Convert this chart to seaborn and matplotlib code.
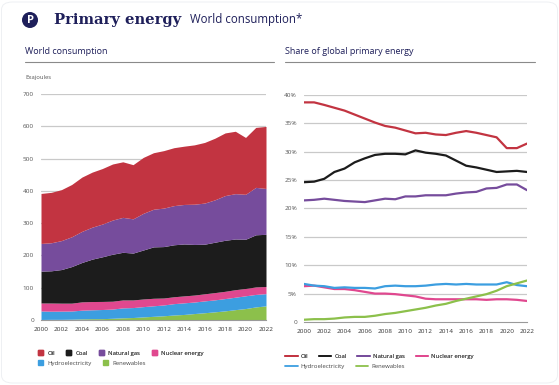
import numpy as np
import pandas as pd
import matplotlib.pyplot as plt
import seaborn as sns
from matplotlib.patches import Patch, Ellipse, FancyBboxPatch
from matplotlib.lines import Line2D

years = list(range(2000, 2023))

# World consumption, exajoules
oil_ej = [154.9, 156.2, 157.8, 161.9, 168.1, 170.5, 172.0, 173.6, 172.1, 167.8, 173.2, 175.0,
          178.0, 179.4, 180.5, 183.8, 187.8, 190.8, 194.0, 193.3, 176.1, 185.7, 192.2]
coal_ej = [98.6, 99.8, 104.1, 113.3, 122.0, 131.3, 138.3, 145.5, 147.6, 145.2, 151.7, 159.2,
           159.3, 161.0, 160.8, 156.7, 153.7, 156.0, 158.0, 157.0, 152.5, 161.5, 161.6]
gas_ej = [85.8, 86.8, 89.7, 92.3, 96.3, 99.0, 101.4, 105.9, 108.2, 106.0, 113.6, 116.6,
          119.2, 121.3, 122.4, 124.7, 127.4, 131.3, 138.5, 140.4, 139.2, 146.9, 142.0]
nuclear_ej = [24.8, 25.3, 24.7, 24.4, 25.7, 25.6, 25.0, 24.3, 24.5, 23.6, 23.7, 23.3,
              21.5, 21.3, 21.5, 21.6, 21.9, 22.5, 22.5, 23.3, 22.6, 23.2, 22.2]
hydro_ej = [26.3, 25.3, 25.5, 25.3, 27.0, 27.5, 28.3, 28.6, 30.8, 30.8, 31.8, 32.6,
            33.5, 35.2, 36.0, 35.7, 36.7, 37.1, 38.1, 38.5, 39.5, 38.7, 37.8]
renew_ej = [1.6, 2.0, 2.0, 2.5, 3.5, 4.1, 4.2, 5.3, 6.8, 7.7, 9.6, 11.4,
            13.1, 15.5, 17.2, 20.0, 22.5, 25.3, 28.3, 32.1, 35.5, 40.5, 43.8]

# Share of global primary energy, %
oil_pct = [38.65, 38.65, 38.2, 37.7, 37.2, 36.5, 35.8, 35.1, 34.5, 34.2, 33.7, 33.2,
           33.3, 33.0, 32.9, 33.3, 33.6, 33.3, 32.9, 32.5, 30.6, 30.6, 31.4]
coal_pct = [24.6, 24.7, 25.2, 26.4, 27.0, 28.1, 28.8, 29.4, 29.6, 29.6, 29.5, 30.2,
            29.8, 29.6, 29.3, 28.4, 27.5, 27.2, 26.8, 26.4, 26.5, 26.6, 26.4]
gas_pct = [21.4, 21.5, 21.7, 21.5, 21.3, 21.2, 21.1, 21.4, 21.7, 21.6, 22.1, 22.1,
           22.3, 22.3, 22.3, 22.6, 22.8, 22.9, 23.5, 23.6, 24.2, 24.2, 23.2]
nuclear_pct = [6.3, 6.4, 6.1, 5.8, 5.8, 5.6, 5.3, 5.0, 5.0, 4.9, 4.7, 4.5,
               4.1, 4.0, 4.0, 4.0, 4.0, 4.0, 3.9, 4.0, 4.0, 3.9, 3.7]
hydro_pct = [6.7, 6.4, 6.3, 6.0, 6.1, 6.0, 6.0, 5.9, 6.3, 6.4, 6.3, 6.3,
             6.4, 6.6, 6.7, 6.6, 6.7, 6.6, 6.6, 6.6, 7.0, 6.5, 6.3]
renew_pct = [0.4, 0.5, 0.5, 0.6, 0.8, 0.9, 0.9, 1.1, 1.4, 1.6, 1.9, 2.2,
             2.5, 2.9, 3.2, 3.7, 4.1, 4.5, 4.9, 5.5, 6.3, 6.8, 7.3]

fuels = ["Oil", "Coal", "Natural gas", "Nuclear energy", "Hydroelectricity", "Renewables"]
colors = {"Oil": "#c23441", "Coal": "#1c1c1c", "Natural gas": "#764c9c",
          "Nuclear energy": "#e0488f", "Hydroelectricity": "#3c9ee0", "Renewables": "#8cc04b"}

ej = pd.DataFrame({"Oil": oil_ej, "Coal": coal_ej, "Natural gas": gas_ej,
                   "Nuclear energy": nuclear_ej, "Hydroelectricity": hydro_ej,
                   "Renewables": renew_ej}, index=years)
pct = pd.DataFrame({"Oil": oil_pct, "Coal": coal_pct, "Natural gas": gas_pct,
                    "Nuclear energy": nuclear_pct, "Hydroelectricity": hydro_pct,
                    "Renewables": renew_pct}, index=years)
pct_long = pct.reset_index(names="year").melt(id_vars="year", var_name="fuel", value_name="share")

sns.set_style("white")
plt.rcParams['font.family'] = ['Open Sans', 'DejaVu Sans']

navy = "#1e1f5a"
grey_txt = "#555555"
grid_c = "#c9c9c9"
W, H = 559, 385

fig = plt.figure(figsize=(5.59, 3.85), dpi=100)

# faint rounded frame
fig.patches.append(FancyBboxPatch((1.5 / W, 2 / H), 556 / W, 381 / H,
                                  boxstyle="round,pad=0,rounding_size=0.02",
                                  transform=fig.transFigure, facecolor="none",
                                  edgecolor="#eef0f3", lw=0.7))

# header
fig.patches.append(Ellipse((30 / W, 1 - 20 / H), 16 / W, 16 / H, transform=fig.transFigure,
                           facecolor=navy, edgecolor="none"))
fig.text(30 / W, 1 - 20.5 / H, "P", color="white", fontsize=8, fontweight="bold",
         ha="center", va="center")
fig.text(54 / W, 1 - 20 / H, "Primary energy", color=navy, fontsize=10.6,
         fontweight="bold", family="DejaVu Serif", va="center")
fig.text(190 / W, 1 - 20 / H, "World consumption*", color=navy, fontsize=8.3, va="center")

fig.text(25 / W, 1 - 52 / H, "World consumption", color=navy, fontsize=6.5, va="center")
fig.text(285 / W, 1 - 52 / H, "Share of global primary energy", color=navy, fontsize=6.5,
         va="center")
fig.add_artist(Line2D([25 / W, 274 / W], [1 - 61.5 / H] * 2, color="#8a8a8a", lw=0.8))
fig.add_artist(Line2D([285 / W, 535 / W], [1 - 61.5 / H] * 2, color="#8a8a8a", lw=0.8))
fig.text(25 / W, 1 - 77 / H, "Exajoules", color=grey_txt, fontsize=4.2, va="center")

# left: stacked area
ax1 = fig.add_axes([41 / W, 1 - 320 / H, 225 / W, 226 / H])
order = ["Renewables", "Hydroelectricity", "Nuclear energy", "Coal", "Natural gas", "Oil"]
ax1.stackplot(ej.index, [ej[f] for f in order], colors=[colors[f] for f in order],
              linewidth=0)
ax1.set_xlim(2000, 2022)
ax1.set_ylim(0, 700)
ax1.set_yticks(range(0, 701, 100))
ax1.set_xticks(range(2000, 2023, 2))
for yv in range(100, 701, 100):
    ax1.axhline(yv, color=grid_c, lw=0.9, zorder=0)

# right: lines
ax2 = fig.add_axes([304 / W, 1 - 322 / H, 223 / W, 227.3 / H])
sns.lineplot(data=pct_long, x="year", y="share", hue="fuel", hue_order=fuels,
             palette=colors, linewidth=1.6, legend=False, ax=ax2)
ax2.set_xlim(2000, 2022)
ax2.set_ylim(0, 40)
ax2.set_yticks(range(0, 41, 5))
ax2.set_yticklabels(["0"] + [f"{v}%" for v in range(5, 41, 5)])
ax2.set_xticks(range(2000, 2023, 2))
ax2.set_xticks(range(2000, 2023), minor=True)
for yv in range(5, 41, 5):
    ax2.axhline(yv, color=grid_c, lw=0.9, zorder=0)

for ax in (ax1, ax2):
    sns.despine(ax=ax, left=True)
    ax.spines["bottom"].set_color("#9a9a9a")
    ax.spines["bottom"].set_linewidth(0.8)
    ax.set_xlabel("")
    ax.set_ylabel("")
    ax.tick_params(axis="y", length=0, labelsize=4.6, labelcolor=grey_txt, pad=5)
    ax.tick_params(axis="x", which="both", length=3, width=0.6, color="#9a9a9a",
                   labelsize=4.6, labelcolor="#333333", pad=2)
    ax.set_facecolor("none")

# legends
box_kw = dict(frameon=False, fontsize=4.3, labelcolor="#444444", handlelength=0.85,
              handleheight=0.85, handletextpad=0.7, columnspacing=1.9, borderpad=0,
              borderaxespad=0)
row1 = ["Oil", "Coal", "Natural gas", "Nuclear energy"]
row2 = ["Hydroelectricity", "Renewables"]
lg = fig.legend([Patch(color=colors[f]) for f in row1], row1, ncol=4, loc="center left",
                bbox_to_anchor=(38 / W, 1 - 353 / H), **box_kw)
fig.add_artist(lg)
fig.legend([Patch(color=colors[f]) for f in row2], row2, ncol=2, loc="center left",
           bbox_to_anchor=(38 / W, 1 - 363 / H), **box_kw)

line_kw = dict(frameon=False, fontsize=4.3, labelcolor="#444444", handlelength=2.1,
               handletextpad=0.5, columnspacing=1.8, borderpad=0, borderaxespad=0)
lg = fig.legend([Line2D([], [], color=colors[f], lw=1.3) for f in row1], row1, ncol=4,
                loc="center left", bbox_to_anchor=(285 / W, 1 - 356 / H), **line_kw)
fig.add_artist(lg)
fig.legend([Line2D([], [], color=colors[f], lw=1.3) for f in row2], row2, ncol=2,
           loc="center left", bbox_to_anchor=(285 / W, 1 - 366 / H), **line_kw)

fig.savefig("out.png", dpi=100, facecolor="white")
